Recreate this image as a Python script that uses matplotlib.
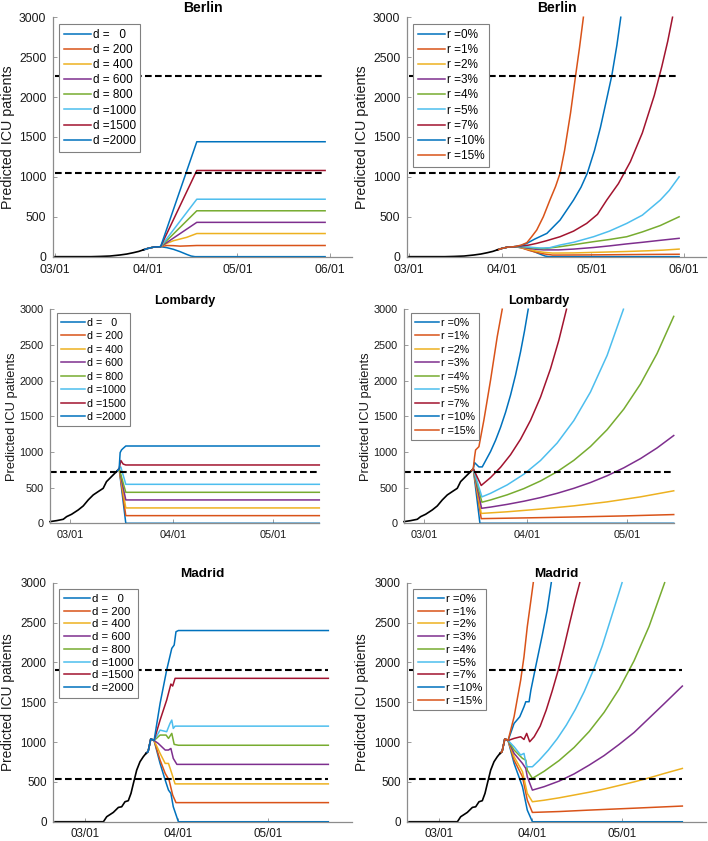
import numpy as np
from matplotlib import pyplot as plt

plt.rcParams['font.family'] = ['Liberation Sans', 'DejaVu Sans']

# MATLAB default colour order
matlab_colors = ['#0072BD', '#D95319', '#EDB120', '#7E2F8E', '#77AC30', '#4DBEEE', '#A2142F']

d_labels = ['d =   0', 'd = 200', 'd = 400', 'd = 600', 'd = 800', 'd =1000', 'd =1500', 'd =2000']
r_labels = ['r =0%', 'r =1%', 'r =2%', 'r =3%', 'r =4%', 'r =5%', 'r =7%', 'r =10%', 'r =15%']

# days counted from 03/01
tick_days = [0, 31, 61, 92]
tick_names = ['03/01', '04/01', '05/01', '06/01']

# ---------------- Berlin ----------------
berlin_obs_day = [0, 12, 15, 18.4, 21.7, 24, 26.2, 28, 29.5]
berlin_obs_icu = [0, 0, 3, 8, 21, 33, 50, 66, 85]
berlin_start_day = [29.5, 31, 33, 35.3]
berlin_start_icu = [85, 103, 120, 125]
berlin_caps = [2270, 1045]

berlin_d_day = [
    [37.4, 39.6, 41.8, 44, 45.5, 46.8, 90.3],
    [37.4, 39.6, 41.8, 44, 47.4, 90.3],
    [37.4, 39.6, 41.8, 44, 47.4, 90.3],
    [47.4, 90.3],
    [47.4, 90.3],
    [47.4, 90.3],
    [47.4, 90.3],
    [47.4, 90.3],
]
berlin_d_icu = [
    [113, 92, 63, 29, 8, 0, 0],
    [140, 138, 132, 135, 140, 140],
    [167, 200, 221, 242, 290, 290],
    [430, 430],
    [575, 575],
    [720, 720],
    [1080, 1080],
    [1440, 1440],
]

berlin_r_day = [
    [37.4, 39.6, 41.8, 44, 45.5, 46.8, 90.3],
    [37.5, 40, 42.5, 45, 48, 60, 70, 80, 90.3],
    [37.5, 40, 42.5, 45, 48, 55, 60, 66, 72.8, 80, 85, 90.3],
    [37.5, 40, 42.5, 45, 50, 55, 61.7, 67, 72.8, 78, 84, 90.3],
    [37.5, 40, 42.5, 45, 50.5, 55, 61.7, 67, 72.8, 78, 84, 90.3],
    [37.5, 40, 44, 47, 50.5, 55, 61.7, 67, 72.8, 78, 84, 87, 90.3],
    [37.5, 40, 42.7, 46, 50.5, 55, 59.4, 63, 66.1, 70, 74, 78, 82, 84.5, 86.5, 88.1],
    [37.5, 39.4, 42, 46.1, 50.5, 55, 57.5, 59.6, 62, 64, 66, 67.8, 69.5, 70.8],
    [37.5, 39.4, 41, 42.7, 44.9, 47.1, 49, 50.5, 52, 54, 55.7, 57, 58.3],
]
berlin_r_icu = [
    [113, 92, 63, 29, 8, 0, 0],
    [112, 80, 55, 35, 20, 22, 25, 28, 30],
    [115, 92, 70, 55, 45, 47, 52, 58, 65, 74, 82, 95],
    [120, 105, 92, 85, 85, 95, 115, 135, 160, 180, 205, 230],
    [125, 115, 105, 100, 125, 150, 188, 215, 250, 310, 390, 500],
    [128, 120, 108, 112, 146, 180, 250, 320, 417, 520, 709, 830, 1000],
    [135, 145, 167, 200, 250, 320, 417, 530, 709, 915, 1190, 1550, 2020, 2380, 2700, 3000],
    [140, 167, 220, 292, 459, 709, 870, 1045, 1330, 1620, 1960, 2270, 2650, 3000],
    [145, 175, 250, 334, 500, 709, 880, 1045, 1330, 1800, 2270, 2620, 3000],
]

# ---------------- Lombardy ----------------
lomb_obs_day = [-6, -4, -2, -1, 0.5, 2.5, 4, 5.5, 7, 8.5, 10, 11, 12.5, 14]
lomb_obs_icu = [23, 37, 56, 93, 126, 187, 243, 327, 397, 444, 490, 584, 654, 724]
lomb_start_day = [14, 14.8]
lomb_start_icu = [724, 765]
lomb_caps = [720]

lomb_d_day = [
    [16.8, 75],
    [16.8, 75],
    [16.8, 75],
    [16.8, 75],
    [16.8, 75],
    [15.3, 16.8, 75],
    [15.3, 16, 16.8, 75],
    [15.1, 15.5, 16, 16.8, 75],
]
lomb_d_icu = [
    [0, 0],
    [107, 107],
    [215, 215],
    [327, 327],
    [434, 434],
    [790, 546, 546],
    [880, 830, 817, 817],
    [990, 1027, 1050, 1083, 1083],
]

lomb_r_day = [
    [16.8, 75],
    [17.2, 30, 45, 60, 75],
    [17.2, 25, 35, 45, 55, 65, 75],
    [17.3, 20, 25, 30, 35, 40, 45, 50, 55, 60, 65, 70, 75],
    [17.4, 20, 25, 30, 35, 40, 45, 50, 55, 60, 65, 70, 75],
    [17.4, 20, 25, 30, 35, 40, 45, 50, 55, 59.9],
    [17.2, 20, 23, 26, 29, 32, 35, 38, 40.5, 42.8],
    [15.2, 16.5, 17.5, 20, 21.5, 23, 24.5, 26, 27.5, 29, 30.2, 31.3],
    [15.2, 15.5, 16.5, 18, 20, 22, 23.5],
]
lomb_r_icu = [
    [0, 0],
    [65, 75, 88, 103, 122],
    [138, 161, 199, 244, 300, 370, 455],
    [210, 227, 265, 309, 360, 420, 490, 571, 666, 777, 906, 1056, 1230],
    [295, 327, 399, 486, 593, 723, 882, 1076, 1312, 1600, 1951, 2380, 2900],
    [370, 420, 538, 688, 880, 1125, 1439, 1840, 2353, 3000],
    [530, 641, 785, 961, 1178, 1443, 1768, 2166, 2566, 3000],
    [850, 790, 790, 1006, 1163, 1345, 1555, 1797, 2078, 2402, 2697, 3000],
    [930, 1027, 1074, 1448, 2008, 2615, 3000],
]

# ---------------- Madrid ----------------
madrid_obs_day = [-10, 6.1, 7.2, 9.4, 11.1, 12.2, 13.3, 14.4, 15.3, 16.1, 17.2, 18.3, 19.4, 20.3]
madrid_obs_icu = [0, 0, 63, 117, 180, 188, 251, 264, 356, 481, 648, 753, 816, 858]
madrid_start_day = [20.3, 21.0, 21.9, 23.0]
madrid_start_icu = [858, 880, 1040, 1020]
madrid_caps = [1900, 540]

madrid_d_day = [
    [25.0, 26.7, 27.8, 28.6, 29.4, 31.1, 81.1],
    [25.0, 26.7, 28.0, 29.2, 30.3, 81.1],
    [25.0, 26.7, 27.8, 28.9, 30.0, 81.1],
    [24.4, 26.7, 27.8, 28.6, 29.4, 30.6, 81.1],
    [25.0, 27.0, 27.8, 28.9, 29.7, 31.1, 81.1],
    [25.0, 27.2, 28.3, 28.9, 29.4, 30.0, 81.1],
    [25.0, 27.2, 28.6, 29.2, 30.0, 81.1],
    [25.0, 27.2, 28.9, 29.7, 30.3, 31.1, 81.1],
]
madrid_d_icu = [
    [732, 523, 397, 356, 188, 0, 0],
    [774, 607, 523, 335, 240, 240],
    [858, 732, 732, 607, 475, 475],
    [983, 900, 900, 920, 795, 720, 720],
    [1088, 1088, 1046, 1109, 971, 960, 960],
    [1150, 1130, 1234, 1276, 1171, 1200, 1200],
    [1276, 1527, 1728, 1703, 1800, 1800],
    [1485, 1904, 2176, 2218, 2385, 2400, 2400],
]

madrid_r_day = [
    [25.0, 27.8, 29.4, 31.1, 81.1],
    [25.0, 27.8, 29.4, 31.1, 40, 50, 65, 81.1],
    [25.0, 27.8, 29.4, 31.1, 35, 40, 45, 50, 55, 60, 65, 70, 75, 81.1],
    [25.0, 27.8, 28.9, 29.4, 31.1, 35, 40, 45, 50, 55, 60, 65, 70, 75, 81.1],
    [25.0, 27.8, 28.9, 29.4, 31.1, 35, 40, 45, 50, 55, 60, 65, 70, 75.2],
    [25.0, 27.2, 28.3, 29.2, 31.1, 33.4, 36.4, 39.4, 42.4, 45.4, 48.4, 51.4, 54.4, 57.4, 61.0],
    [25.0, 27.2, 28.3, 29.2, 30.2, 31.7, 33.7, 35.7, 37.7, 39.7, 41.7, 43.7, 45.5, 46.9],
    [25.0, 26.9, 28.3, 28.9, 30.0, 30.6, 32.2, 34.4, 36.0, 37.4],
    [25.0, 27.2, 28.3, 29.4, 30.5, 31.4],
]
madrid_r_icu = [
    [732, 439, 146, 0, 0],
    [774, 565, 272, 117, 128, 146, 170, 197],
    [816, 628, 356, 251, 270, 300, 335, 370, 410, 455, 500, 550, 605, 669],
    [858, 732, 669, 565, 397, 440, 510, 600, 710, 830, 970, 1120, 1300, 1480, 1703],
    [900, 795, 774, 648, 544, 633, 768, 932, 1131, 1372, 1664, 2020, 2451, 3000],
    [941, 837, 858, 690, 690, 773, 898, 1043, 1212, 1408, 1635, 1900, 2207, 2565, 3000],
    [1046, 1067, 1033, 1109, 1004, 1067, 1200, 1400, 1640, 1900, 2200, 2520, 2800, 3000],
    [1234, 1318, 1443, 1506, 1506, 1652, 1946, 2343, 2650, 3000],
    [1318, 1778, 2071, 2448, 2750, 3000],
]


def draw_panel(ax, title, obs_day, obs_icu, start_day, start_icu, days, icus,
               labels, caps, xlim, n_ticks, fs, leg_xy, lab_x, leg_space):
    for i in range(len(days)):
        ax.plot(start_day + days[i], start_icu + icus[i], color=matlab_colors[i % 7],
                lw=1.1, label=labels[i], clip_on=False)
    ax.plot(obs_day, obs_icu, color='k', lw=1.2, clip_on=False)
    x_end = days[0][-1]
    for c in caps:
        ax.plot([obs_day[0], x_end], [c, c], color='k', lw=1.5, ls=(0, (3.2, 1.6)))

    ax.set_xlim(xlim)
    ax.set_ylim(0, 3000)
    ax.set_yticks(np.arange(0, 3001, 500))
    ax.set_xticks(tick_days[:n_ticks])
    ax.set_xticklabels(tick_names[:n_ticks])
    for s in ['top', 'right']:
        ax.spines[s].set_visible(False)
    for s in ['left', 'bottom']:
        ax.spines[s].set_color('0.55')
        ax.spines[s].set_linewidth(0.9)
    ax.tick_params(direction='in', length=3, width=0.6, color='0.55',
                   labelcolor='0.1', labelsize=8.7 * fs)
    ax.tick_params(axis='y', pad=5 * fs)
    ax.tick_params(axis='x', pad=5 * fs)
    ax.set_title(title, fontweight='bold', fontsize=10.1 * fs, pad=4)
    ax.set_ylabel('Predicted ICU patients', fontsize=10.3 * fs, color='0.1')
    ax.yaxis.set_label_coords(lab_x, 0.5)

    leg = ax.legend(loc='upper left', bbox_to_anchor=leg_xy, borderaxespad=0,
                    fontsize=8.5 * fs, handlelength=2.3, handletextpad=0.15,
                    labelspacing=leg_space, borderpad=0.4, fancybox=False, framealpha=1)
    leg.get_frame().set_edgecolor('0.5')
    leg.get_frame().set_linewidth(0.8)


fig = plt.figure(figsize=(7.08, 8.41), dpi=100)

ax1 = fig.add_axes([0.0753, 0.6948, 0.4215, 0.2847])
ax2 = fig.add_axes([0.5753, 0.6948, 0.4215, 0.2847])
ax3 = fig.add_axes([0.0706, 0.3778, 0.3804, 0.2545])
ax4 = fig.add_axes([0.5706, 0.3778, 0.3810, 0.2545])
ax5 = fig.add_axes([0.0753, 0.0229, 0.4215, 0.2842])
ax6 = fig.add_axes([0.5753, 0.0229, 0.4215, 0.2842])

draw_panel(ax1, 'Berlin', berlin_obs_day, berlin_obs_icu, berlin_start_day, berlin_start_icu,
           berlin_d_day, berlin_d_icu, d_labels, berlin_caps, (-0.57, 99.2), 4, 1.0,
           (0.019, 0.972), -0.127, 0.27)
draw_panel(ax2, 'Berlin', berlin_obs_day, berlin_obs_icu, berlin_start_day, berlin_start_icu,
           berlin_r_day, berlin_r_icu, r_labels, berlin_caps, (-0.57, 99.2), 4, 1.0,
           (0.019, 0.972), -0.127, 0.27)
draw_panel(ax3, 'Lombardy', lomb_obs_day, lomb_obs_icu, lomb_start_day, lomb_start_icu,
           lomb_d_day, lomb_d_icu, d_labels, lomb_caps, (-6, 75), 3, 0.9,
           (0.025, 0.981), -0.119, 0.33)
draw_panel(ax4, 'Lombardy', lomb_obs_day, lomb_obs_icu, lomb_start_day, lomb_start_icu,
           lomb_r_day, lomb_r_icu, r_labels, lomb_caps, (-6, 75), 3, 0.9,
           (0.025, 0.981), -0.119, 0.33)
draw_panel(ax5, 'Madrid', madrid_obs_day, madrid_obs_icu, madrid_start_day, madrid_start_icu,
           madrid_d_day, madrid_d_icu, d_labels, madrid_caps, (-10.6, 88.9), 3, 0.96,
           (0.02, 0.972), -0.127, 0.24)
draw_panel(ax6, 'Madrid', madrid_obs_day, madrid_obs_icu, madrid_start_day, madrid_start_icu,
           madrid_r_day, madrid_r_icu, r_labels, madrid_caps, (-10.6, 88.9), 3, 0.96,
           (0.02, 0.972), -0.127, 0.24)

fig.savefig('out.png', dpi=100)
